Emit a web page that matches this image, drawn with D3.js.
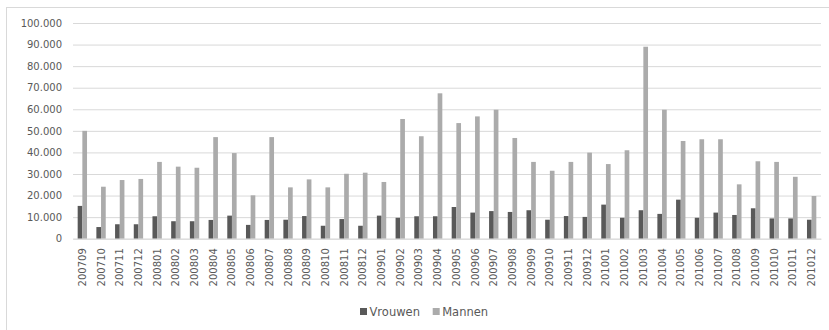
<!DOCTYPE html>
<html lang="nl">
<head>
<meta charset="utf-8">
<title>Vrouwen en Mannen per maand</title>
<script src="https://cdn.jsdelivr.net/npm/d3@7"></script>
<style>
  html, body { margin: 0; padding: 0; background: #fff; }
  svg { display: block; font-family: "DejaVu Sans", sans-serif; }
</style>
</head>
<body>
<script>
// maanden (jjjjmm)
let months = ["200709","200710","200711","200712","200801","200802","200803","200804",
  "200805","200806","200807","200808","200809","200810","200811","200812",
  "200901","200902","200903","200904","200905","200906","200907","200908",
  "200909","200910","200911","200912","201001","201002","201003","201004",
  "201005","201006","201007","201008","201009","201010","201011","201012"];

let vrouwen = [15200,5400,6700,6700,10400,8100,8100,8700,10700,6400,8700,8800,
  10500,6000,9100,6000,10700,9700,10400,10400,14700,12100,12800,12400,
  13200,8800,10500,10100,15800,9700,13200,11500,18100,9700,12100,11000,
  14100,9400,9400,8800];

let mannen = [50000,24100,27200,27700,35600,33400,32900,47100,39700,20100,47100,23800,
  27500,23800,30100,30600,26300,55500,47500,67400,53600,56700,59800,46700,
  35600,31500,35600,39900,34600,41000,89000,59800,45300,46100,46100,25200,
  35900,35600,28700,19800];

let yTicks = [0,10000,20000,30000,40000,50000,60000,70000,80000,90000,100000];
let seriesNames = ["Vrouwen", "Mannen"];
let seriesColors = ["#595959", "#ababab"];

let w = 829, h = 330;
let plotLeft = 73, plotRight = 821, plotTop = 23, plotBottom = 238.7;

let svg = d3.select("body").append("svg")
  .attr("width", w)
  .attr("height", h);

// chart frame (runs off the right and bottom edges)
svg.append("rect")
  .attr("x", 6.5).attr("y", 7.5)
  .attr("width", 900).attr("height", 400)
  .attr("fill", "none")
  .attr("stroke", "#d9d9d9");

let x = d3.scaleBand()
  .domain(months)
  .range([plotLeft, plotRight])
  .paddingInner(0.5)
  .paddingOuter(0.25);

let x1 = d3.scaleBand()
  .domain(seriesNames)
  .range([0, x.bandwidth()]);

let y = d3.scaleLinear()
  .domain([0, 100000])
  .range([plotBottom, plotTop]);

let fmt = d3.formatLocale({decimal: ",", thousands: ".", grouping: [3], currency: ["€", ""]}).format(",");

// gridlines + y labels
let yAxis = d3.axisLeft(y)
  .tickValues(yTicks)
  .tickSize(-(plotRight - plotLeft))
  .tickPadding(11)
  .tickFormat(fmt);

let gy = svg.append("g")
  .attr("transform", "translate(" + plotLeft + ",0)")
  .call(yAxis);
gy.select(".domain").remove();
gy.selectAll(".tick line").attr("stroke", "#d9d9d9");
gy.selectAll(".tick text")
  .attr("fill", "#595959")
  .attr("font-size", "10px")
  .attr("font-family", "DejaVu Sans");

// bars
let data = months.map((m, i) => ({m: m, vals: [vrouwen[i], mannen[i]]}));

let groups = svg.append("g").selectAll("g")
  .data(data)
  .enter()
  .append("g")
  .attr("transform", d => "translate(" + x(d.m) + ",0)");

groups.selectAll("rect")
  .data(d => d.vals.map((v, k) => ({name: seriesNames[k], v: v, c: seriesColors[k]})))
  .enter()
  .append("rect")
  .attr("x", d => x1(d.name))
  .attr("y", d => y(d.v))
  .attr("width", x1.bandwidth())
  .attr("height", d => y(0) - y(d.v))
  .attr("fill", d => d.c);

// x axis
let xAxis = d3.axisBottom(x).tickSize(0).tickPadding(0);
let gx = svg.append("g")
  .attr("transform", "translate(0," + plotBottom + ")")
  .call(xAxis);
gx.select(".domain").attr("stroke", "#d9d9d9");
gx.selectAll(".tick text")
  .attr("fill", "#595959")
  .attr("font-size", "10px")
  .attr("font-family", "DejaVu Sans")
  .attr("text-anchor", "end")
  .attr("dy", "0.35em")
  .attr("transform", "translate(0,9.5) rotate(-90)");

// legend
let legendX = [360, 432.7];
let legend = svg.append("g").selectAll("g")
  .data(seriesNames)
  .enter()
  .append("g")
  .attr("transform", (d, i) => "translate(" + legendX[i] + ",308)");

legend.append("rect")
  .attr("width", 7).attr("height", 7)
  .attr("fill", (d, i) => seriesColors[i]);

legend.append("text")
  .attr("x", 9.5).attr("y", 7.8)
  .attr("fill", "#595959")
  .attr("font-size", "11.5px")
  .text(d => d);
</script>
</body>
</html>
